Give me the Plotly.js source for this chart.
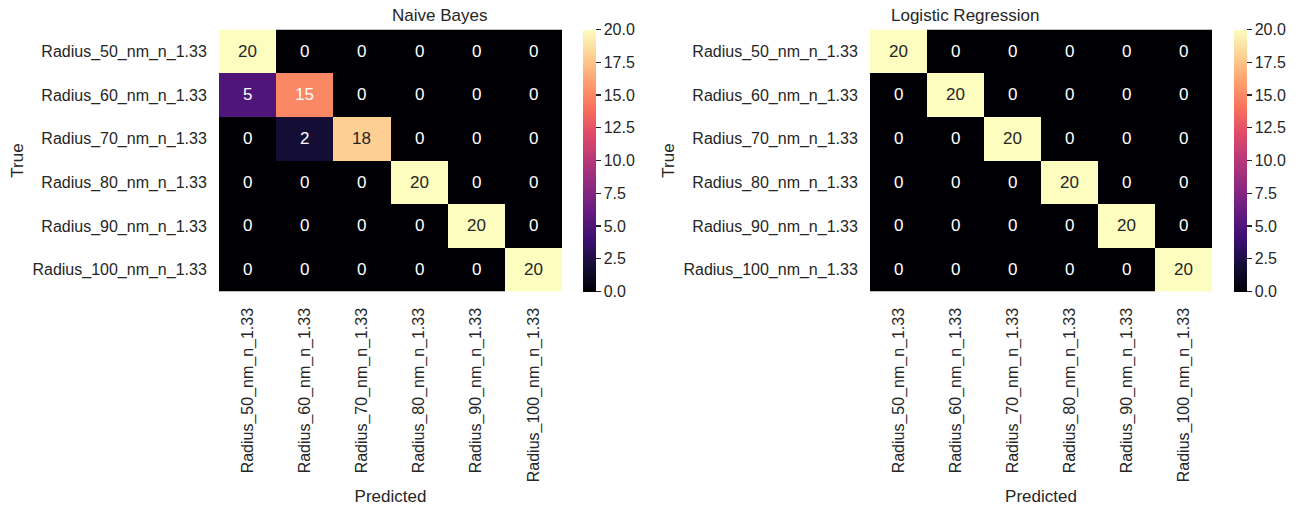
<!DOCTYPE html>
<html>
<head>
<meta charset="utf-8">
<script src="https://cdn.plot.ly/plotly-3.0.1.min.js"></script>
<style>
  html, body { margin: 0; padding: 0; background: #fff; }
  #chart { width: 1298px; height: 507px; }
</style>
</head>
<body>
<div id="chart"></div>
<script>
var classes = ['Radius_50_nm_n_1.33', 'Radius_60_nm_n_1.33', 'Radius_70_nm_n_1.33',
               'Radius_80_nm_n_1.33', 'Radius_90_nm_n_1.33', 'Radius_100_nm_n_1.33']

var naiveBayes = [
  [20, 0, 0, 0, 0, 0],
  [5, 15, 0, 0, 0, 0],
  [0, 2, 18, 0, 0, 0],
  [0, 0, 0, 20, 0, 0],
  [0, 0, 0, 0, 20, 0],
  [0, 0, 0, 0, 0, 20]
]

var logisticRegression = [
  [20, 0, 0, 0, 0, 0],
  [0, 20, 0, 0, 0, 0],
  [0, 0, 20, 0, 0, 0],
  [0, 0, 0, 20, 0, 0],
  [0, 0, 0, 0, 20, 0],
  [0, 0, 0, 0, 0, 20]
]

var titles = ['Naive Bayes', 'Logistic Regression']
var cbTicks = [0, 2.5, 5, 7.5, 10, 12.5, 15, 17.5, 20]

// matplotlib magma
var magma = [
  [0.0, '#000004'], [0.1, '#140e36'], [0.2, '#3b0f70'], [0.3, '#641a80'],
  [0.4, '#8c2981'], [0.5, '#b73779'], [0.6, '#de4968'], [0.7, '#f7705c'],
  [0.8, '#fe9f6d'], [0.9, '#fecf92'], [1.0, '#fcfdbf']
]

var FONT = 'Liberation Sans, Arial, sans-serif'
var TXT = '#262626'

var doms = [[219/1298, 562/1298], [870/1298, 1212/1298]]
var cbx = [583/1298, 1234/1298]
var ydom = [1 - 291.5/507, 1 - 29.5/507]

var traces = []
var annotations = []
var layout = {
  width: 1298, height: 507,
  margin: {l: 0, r: 0, t: 0, b: 0},
  paper_bgcolor: '#fff', plot_bgcolor: '#fff',
  font: {family: FONT, size: 16, color: TXT},
  showlegend: false
}

;[naiveBayes, logisticRegression].forEach(function (z, k) {
  var xa = k ? 'x2' : 'x', ya = k ? 'y2' : 'y'
  traces.push({
    type: 'heatmap',
    z: z, x: classes, y: classes,
    xaxis: xa, yaxis: ya,
    zmin: 0, zmax: 20,
    colorscale: magma,
    hoverinfo: 'skip',
    colorbar: {
      x: cbx[k], xanchor: 'left', xref: 'paper', xpad: 0,
      y: ydom[0], yanchor: 'bottom', yref: 'paper', ypad: 0,
      len: ydom[1] - ydom[0], lenmode: 'fraction',
      thickness: 13, thicknessmode: 'pixels',
      outlinewidth: 0,
      tickmode: 'array', tickvals: cbTicks,
      ticktext: cbTicks.map(function (v) { return v.toFixed(1) }),
      ticks: 'outside', ticklen: 5, tickwidth: 1.2, tickcolor: TXT,
      tickfont: {family: FONT, size: 16, color: TXT}
    }
  })

  // light cells get dark text, like seaborn does
  z.forEach(function (row, i) {
    row.forEach(function (v, j) {
      annotations.push({
        x: classes[j], y: classes[i], xref: xa, yref: ya,
        text: String(v), showarrow: false,
        font: {family: FONT, size: 17, color: v >= 17 ? TXT : '#ffffff'}
      })
    })
  })

  annotations.push({
    text: titles[k], showarrow: false,
    xref: 'paper', yref: 'paper',
    x: (doms[k][0] + doms[k][1]) / 2, y: ydom[1], yanchor: 'bottom', yshift: 2,
    font: {family: FONT, size: 17, color: TXT}
  })

  var xname = k ? 'xaxis2' : 'xaxis', yname = k ? 'yaxis2' : 'yaxis'
  layout[xname] = {
    domain: doms[k], anchor: ya,
    type: 'category', tickangle: -90,
    ticks: 'outside', ticklen: 9, tickcolor: 'rgba(0,0,0,0)',
    showgrid: false, zeroline: false, showline: false,
    tickfont: {family: FONT, size: 16, color: TXT},
    title: {text: 'Predicted', font: {family: FONT, size: 17, color: TXT}, standoff: 8},
    automargin: false
  }
  layout[yname] = {
    domain: ydom, anchor: xa,
    type: 'category', autorange: 'reversed',
    ticks: 'outside', ticklen: 8, tickcolor: 'rgba(0,0,0,0)',
    showgrid: false, zeroline: false, showline: false,
    tickfont: {family: FONT, size: 16, color: TXT},
    title: {text: 'True', font: {family: FONT, size: 17, color: TXT}, standoff: 4},
    automargin: false
  }
})

layout.annotations = annotations

Plotly.newPlot('chart', traces, layout, {displayModeBar: false, staticPlot: true})
</script>
</body>
</html>
